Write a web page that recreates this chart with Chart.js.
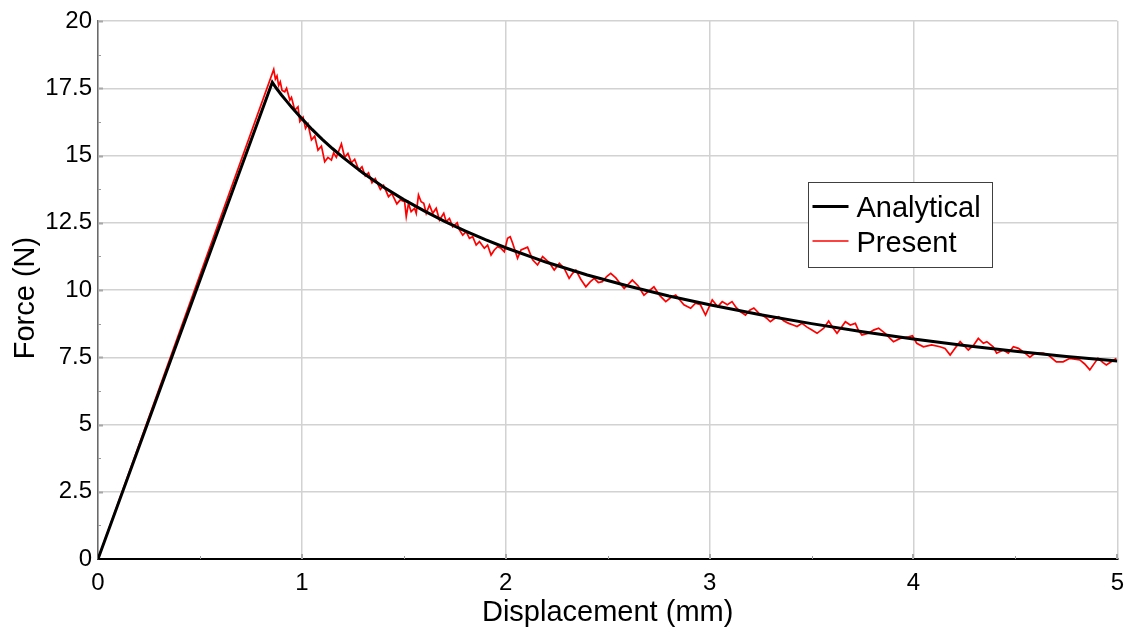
<!DOCTYPE html>
<html>
<head>
<meta charset="utf-8">
<title>Force vs Displacement</title>
<script src="https://cdn.jsdelivr.net/npm/chart.js@4.4.1/dist/chart.umd.min.js"></script>
<style>
  html, body { margin: 0; padding: 0; background: #ffffff; }
  #wrap { width: 1134px; height: 633px; }
</style>
</head>
<body>
<div id="wrap"><canvas id="chart" width="1134" height="633"></canvas></div>
<script>
// Axis ticks
const xTicks = [0, 1, 2, 3, 4, 5];
const yTicks = [0, 2.5, 5, 7.5, 10, 12.5, 15, 17.5, 20];
const xMinorTicks = [0.5, 1.5, 2.5, 3.5, 4.5];
const yMinorTicks = [1.25, 3.75, 6.25, 8.75, 11.25, 13.75, 16.25, 18.75];

// Analytical solution: displacement (mm) and force (N)
const analyticalX = [0, 0.855, 0.875, 0.9, 0.925, 0.95, 1.0, 1.05, 1.1, 1.15, 1.2, 1.25, 1.3,
  1.4, 1.5, 1.6, 1.7, 1.8, 1.9, 2.0, 2.2, 2.4, 2.6, 2.8, 3.0, 3.25, 3.5, 3.75, 4.0, 4.25, 4.5, 4.75, 5.0];
const analyticalF = [0, 17.72, 17.50, 17.25, 17.02, 16.79, 16.37, 15.97, 15.60, 15.26, 14.94, 14.64, 14.35,
  13.83, 13.36, 12.94, 12.55, 12.20, 11.87, 11.57, 11.03, 10.56, 10.15, 9.78, 9.45, 9.08, 8.75, 8.45, 8.18, 7.94, 7.72, 7.53, 7.36];

// Present model: displacement (mm) and force (N)
const presentX = [0, 0.862, 0.870, 0.878, 0.886, 0.894, 0.903, 0.916, 0.925, 0.941, 0.949, 0.965, 0.981,
  0.990, 1.006, 1.018, 1.030, 1.047, 1.063, 1.079, 1.096, 1.112, 1.128, 1.145, 1.156, 1.169, 1.194,
  1.210, 1.226, 1.243, 1.259, 1.279, 1.295, 1.311, 1.327, 1.344, 1.360, 1.385, 1.401, 1.425, 1.441,
  1.466, 1.483, 1.504, 1.512, 1.523, 1.536, 1.553, 1.561, 1.572, 1.585, 1.598, 1.610, 1.626, 1.642,
  1.659, 1.675, 1.696, 1.708, 1.724, 1.740, 1.762, 1.773, 1.789, 1.806, 1.822, 1.838, 1.855, 1.871,
  1.895, 1.911, 1.928, 1.944, 1.960, 1.977, 1.993, 2.009, 2.022, 2.034, 2.058, 2.075, 2.107, 2.132,
  2.156, 2.181, 2.213, 2.238, 2.263, 2.287, 2.311, 2.328, 2.344, 2.368, 2.393, 2.414, 2.434, 2.454,
  2.474, 2.495, 2.515, 2.540, 2.560, 2.581, 2.600, 2.621, 2.650, 2.678, 2.700, 2.727, 2.755, 2.785,
  2.810, 2.834, 2.855, 2.874, 2.907, 2.931, 2.955, 2.980, 3.013, 3.040, 3.062, 3.087, 3.110, 3.130,
  3.152, 3.176, 3.197, 3.217, 3.240, 3.258, 3.280, 3.298, 3.320, 3.339, 3.365, 3.388, 3.410, 3.429,
  3.453, 3.478, 3.502, 3.527, 3.560, 3.584, 3.605, 3.625, 3.645, 3.666, 3.690, 3.715, 3.730, 3.747,
  3.780, 3.804, 3.829, 3.861, 3.885, 3.902, 3.935, 3.976, 3.995, 4.016, 4.049, 4.089, 4.130, 4.155,
  4.180, 4.204, 4.229, 4.253, 4.269, 4.295, 4.318, 4.343, 4.360, 4.391, 4.408, 4.441, 4.465, 4.490,
  4.515, 4.547, 4.571, 4.596, 4.636, 4.660, 4.701, 4.734, 4.767, 4.816, 4.840, 4.865, 4.890, 4.905,
  4.930, 4.946, 4.970, 4.995];
const presentF = [0, 18.20, 17.84, 17.96, 17.60, 17.74, 17.42, 17.37, 17.50, 17.06, 17.16, 16.69, 16.81,
  16.26, 16.42, 16.01, 16.17, 15.58, 15.72, 15.20, 15.35, 14.77, 14.93, 14.83, 15.10, 14.93, 15.43,
  14.93, 15.08, 14.73, 14.86, 14.46, 14.58, 14.24, 14.36, 13.99, 14.14, 13.74, 13.89, 13.47, 13.59,
  13.20, 13.35, 13.28, 12.73, 13.22, 12.91, 13.04, 12.85, 13.53, 13.28, 13.22, 12.85, 13.16, 12.85,
  13.04, 12.60, 12.85, 12.54, 12.66, 12.35, 12.50, 12.23, 12.04, 12.17, 11.92, 11.98, 11.67, 11.80,
  11.55, 11.67, 11.30, 11.49, 11.61, 11.55, 11.42, 11.92, 11.98, 11.74, 11.18, 11.49, 11.59, 11.12,
  10.93, 11.24, 11.02, 10.74, 10.99, 10.80, 10.43, 10.62, 10.74, 10.40, 10.12, 10.30, 10.43, 10.28,
  10.31, 10.50, 10.62, 10.45, 10.25, 10.06, 10.20, 10.37, 10.15, 9.81, 9.95, 10.12, 9.80, 9.57,
  9.72, 9.81, 9.62, 9.45, 9.32, 9.51, 9.45, 9.07, 9.63, 9.38, 9.57, 9.45, 9.57, 9.35,
  9.19, 9.07, 9.25, 9.33, 9.15, 9.07, 8.95, 8.82, 8.95, 9.01, 8.85, 8.76, 8.70, 8.64,
  8.76, 8.62, 8.51, 8.39, 8.58, 8.85, 8.60, 8.39, 8.60, 8.82, 8.70, 8.76, 8.50, 8.33,
  8.39, 8.51, 8.58, 8.39, 8.20, 8.08, 8.20, 8.26, 8.30, 8.02, 7.89, 7.96, 7.89, 7.83,
  7.58, 7.83, 8.08, 7.89, 7.77, 7.95, 8.20, 8.02, 8.08, 7.89, 7.65, 7.77, 7.65, 7.89,
  7.83, 7.65, 7.50, 7.65, 7.65, 7.59, 7.33, 7.33, 7.46, 7.40, 7.25, 7.03, 7.30, 7.46,
  7.30, 7.21, 7.33, 7.46];

const FONT = "'Liberation Sans', Arial, sans-serif";

function toPoints(xs, ys) {
  return xs.map((x, i) => ({ x: x, y: ys[i] }));
}

// Small inward tick marks along the left and bottom axes
const axisTickMarks = {
  id: 'axisTickMarks',
  beforeDatasetsDraw(chart) {
    const { ctx, chartArea, scales } = chart;
    const xs = scales.x, ys = scales.y;
    ctx.save();
    ctx.strokeStyle = '#a8a8a8';
    ctx.lineWidth = 2;
    yTicks.forEach(v => {
      if (v === 0) return;
      const py = Math.round(ys.getPixelForValue(v)) + 0.5;
      ctx.beginPath(); ctx.moveTo(chartArea.left, py); ctx.lineTo(chartArea.left + 5, py); ctx.stroke();
    });
    xTicks.forEach(v => {
      if (v === 0) return;
      const px = Math.round(xs.getPixelForValue(v));
      ctx.beginPath(); ctx.moveTo(px, chartArea.bottom); ctx.lineTo(px, chartArea.bottom - 5); ctx.stroke();
    });
    ctx.strokeStyle = '#9a9a9a';
    ctx.lineWidth = 1;
    yMinorTicks.forEach(v => {
      const py = Math.round(ys.getPixelForValue(v)) + 0.5;
      ctx.beginPath(); ctx.moveTo(chartArea.left, py); ctx.lineTo(chartArea.left + 3, py); ctx.stroke();
    });
    xMinorTicks.forEach(v => {
      const px = Math.round(xs.getPixelForValue(v)) + 0.5;
      ctx.beginPath(); ctx.moveTo(px, chartArea.bottom); ctx.lineTo(px, chartArea.bottom - 3); ctx.stroke();
    });
    ctx.restore();
  }
};

// Boxed legend inside the plot area
const boxedLegend = {
  id: 'boxedLegend',
  afterDraw(chart, args, opts) {
    const { ctx, chartArea } = chart;
    const left = Math.round(chartArea.left + opts.offsetX) + 0.5;
    const top = Math.round(chartArea.top + opts.offsetY) + 0.5;
    const w = opts.width, h = opts.height;
    ctx.save();
    ctx.fillStyle = '#ffffff';
    ctx.fillRect(left, top, w, h);
    ctx.strokeStyle = '#404040';
    ctx.lineWidth = 1;
    ctx.strokeRect(left, top, w, h);
    ctx.font = '29px ' + FONT;
    ctx.textBaseline = 'alphabetic';
    ctx.textAlign = 'left';
    const rows = [chart.data.datasets[0], chart.data.datasets[1]];
    rows.forEach((ds, i) => {
      const ly = top + 24 + i * 34.5;
      ctx.strokeStyle = ds.borderColor;
      ctx.lineWidth = ds.borderWidth;
      ctx.beginPath(); ctx.moveTo(left + 4, ly); ctx.lineTo(left + 40, ly); ctx.stroke();
      ctx.fillStyle = '#000000';
      ctx.fillText(ds.label, left + 48, ly + 10.5);
    });
    ctx.restore();
  }
};

new Chart(document.getElementById('chart'), {
  type: 'line',
  data: {
    datasets: [
      {
        label: 'Analytical',
        data: toPoints(analyticalX, analyticalF),
        borderColor: '#000000',
        borderWidth: 3,
        pointRadius: 0,
        fill: false,
        tension: 0,
        order: 0
      },
      {
        label: 'Present',
        data: toPoints(presentX, presentF),
        borderColor: '#ff0000',
        borderWidth: 1.7,
        pointRadius: 0,
        fill: false,
        tension: 0,
        order: 1
      }
    ]
  },
  options: {
    responsive: false,
    animation: false,
    devicePixelRatio: 1,
    layout: { padding: { left: 0, right: 12, top: 21, bottom: 0 } },
    plugins: {
      legend: { display: false },
      tooltip: { enabled: false },
      boxedLegend: { offsetX: 710, offsetY: 161, width: 184, height: 85 }
    },
    scales: {
      x: {
        type: 'linear',
        min: 0,
        max: 5,
        afterBuildTicks: s => { s.ticks = xTicks.map(v => ({ value: v })); },
        afterFit: s => { s.height = 74; },
        ticks: {
          autoSkip: false,
          maxRotation: 0,
          padding: 10,
          color: '#000000',
          font: { family: FONT, size: 24 },
          callback: v => String(v)
        },
        grid: { color: '#d2d2d2', lineWidth: 1.5, drawTicks: false },
        border: { color: '#000000', width: 2 },
        title: {
          display: true,
          text: 'Displacement (mm)',
          color: '#000000',
          font: { family: FONT, size: 29 },
          padding: { top: 0, bottom: 3 }
        }
      },
      y: {
        type: 'linear',
        min: 0,
        max: 20,
        afterBuildTicks: s => { s.ticks = yTicks.map(v => ({ value: v })); },
        afterFit: s => { s.width = 98; },
        ticks: {
          padding: 6,
          color: '#000000',
          font: { family: FONT, size: 24 },
          callback: v => String(v)
        },
        grid: { color: '#d2d2d2', lineWidth: 1.5, drawTicks: false },
        border: { color: '#6a6a6a', width: 1.5 },
        title: {
          display: true,
          text: 'Force (N)  ',
          color: '#000000',
          font: { family: FONT, size: 29 },
          padding: { top: 9, bottom: 0 }
        }
      }
    }
  },
  plugins: [axisTickMarks, boxedLegend]
});
</script>
</body>
</html>
